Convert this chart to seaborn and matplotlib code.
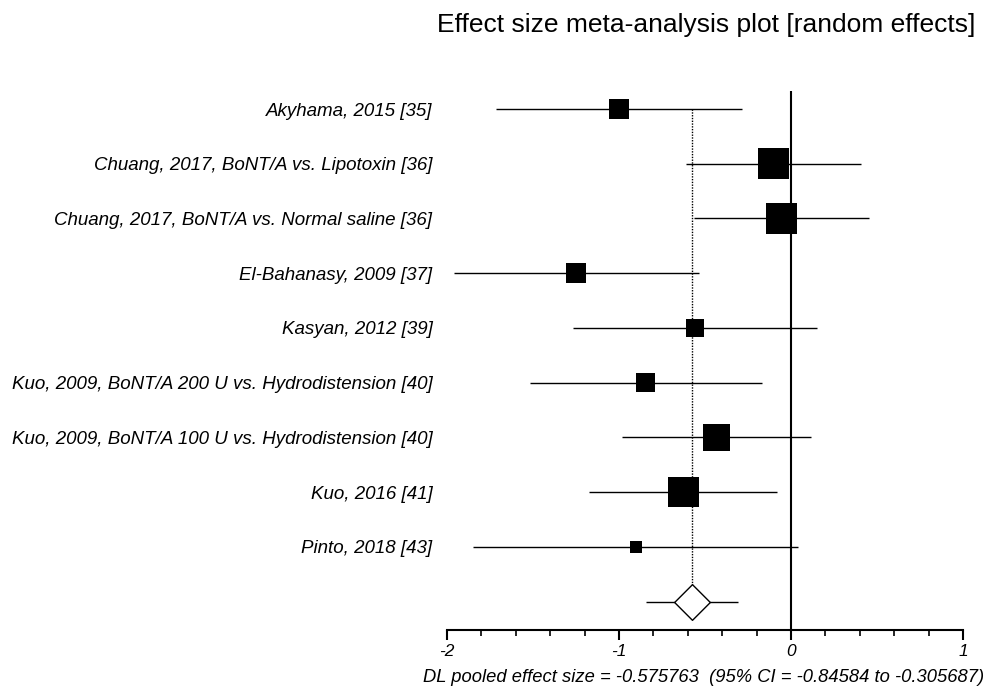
import numpy as np
import pandas as pd
import matplotlib
matplotlib.use("Agg")
import matplotlib.pyplot as plt
from matplotlib.ticker import MultipleLocator
import seaborn as sns

# ---------------- data ----------------
studies = [
    "Akyhama, 2015 [35]",
    "Chuang, 2017, BoNT/A vs. Lipotoxin [36]",
    "Chuang, 2017, BoNT/A vs. Normal saline [36]",
    "El-Bahanasy, 2009 [37]",
    "Kasyan, 2012 [39]",
    "Kuo, 2009, BoNT/A 200 U vs. Hydrodistension [40]",
    "Kuo, 2009, BoNT/A 100 U vs. Hydrodistension [40]",
    "Kuo, 2016 [41]",
    "Pinto, 2018 [43]",
]
effect = [-0.998, -0.101, -0.056, -1.249, -0.558, -0.845, -0.435, -0.626, -0.902]
ci_low = [-1.714, -0.611, -0.565, -1.960, -1.265, -1.519, -0.984, -1.173, -1.848]
ci_high = [-0.287, 0.409, 0.453, -0.537, 0.151, -0.166, 0.116, -0.080, 0.038]
weight = [7.6, 18.0, 18.3, 7.6, 6.4, 7.4, 13.8, 18.0, 2.9]  # % weights (box area)

pooled = -0.575763
pooled_low = -0.84584
pooled_high = -0.305687

x_ticks = [-2, -1, 0, 1]
title = "Effect size meta-analysis plot [random effects]"
footer = "DL pooled effect size = -0.575763  (95% CI = -0.84584 to -0.305687)"

# ---------------- styling ----------------
sns.set_theme(style="white")
plt.rcParams['font.family'] = ['Liberation Sans', 'DejaVu Sans']

AREA_PER_WEIGHT = 27.0   # pt^2 of box per % weight

df = pd.DataFrame({
    "study": studies,
    "effect": effect,
    "low": ci_low,
    "high": ci_high,
    "weight": weight,
})
df["row"] = np.arange(len(df))
pooled_row = len(df)

W, H = 992, 697
fig = plt.figure(figsize=(W / 100, H / 100), dpi=100)
ax = fig.add_axes([447 / W, 1 - 630 / H, 516 / W, (630 - 91) / H])

# confidence intervals
ax.hlines(df["row"], df["low"], df["high"], color="black", lw=1.0, zorder=2)

# null line
ax.axvline(0, color="black", lw=1.5, zorder=1)

# pooled estimate dotted line
ax.plot([pooled, pooled], [0, pooled_row], color="black", lw=1.0,
        ls=(0, (1, 1)), zorder=1)

# study boxes
wmin, wmax = min(weight), max(weight)
sns.scatterplot(data=df, x="effect", y="row", size="weight",
                sizes=(AREA_PER_WEIGHT * wmin, AREA_PER_WEIGHT * wmax),
                size_norm=(wmin, wmax), marker="s", color="black",
                edgecolor="black", linewidth=0, legend=False, ax=ax, zorder=3)

# pooled CI and diamond
ax.hlines([pooled_row], [pooled_low], [pooled_high], color="black", lw=1.0, zorder=2)
sns.scatterplot(x=[pooled], y=[pooled_row], marker="D", s=330, color="white",
                edgecolor="black", linewidth=1.0, legend=False, ax=ax, zorder=4)

ax.set_xlim(x_ticks[0], x_ticks[-1])
ax.set_ylim(pooled_row + 0.52, -0.33)
ax.set_xlabel("")
ax.set_ylabel("")

for s in ["top", "right", "left"]:
    ax.spines[s].set_visible(False)
ax.spines["bottom"].set_linewidth(1.5)
ax.spines["bottom"].set_color("black")

ax.set_xticks(x_ticks)
ax.set_xticklabels([str(t) for t in x_ticks], fontsize=12.5, style="italic")
ax.xaxis.set_minor_locator(MultipleLocator(0.2))
ax.tick_params(axis="x", which="major", bottom=True, direction="out",
               length=7, width=1.5, color="black", pad=3, labelcolor="black")
ax.tick_params(axis="x", which="minor", bottom=True, direction="out",
               length=4.5, width=1.2, color="black")

ax.set_yticks(df["row"])
ax.set_yticklabels(df["study"], fontsize=13.5, style="italic")
ax.tick_params(axis="y", length=0, pad=10.5, labelcolor="black")

fig.text(975 / W, 1 - 25 / H, title, ha="right", va="center", fontsize=19,
         color="black")
fig.text(984 / W, 1 - 678 / H, footer, ha="right", va="center", fontsize=13.2,
         style="italic", color="black")

fig.savefig("out.png", dpi=100, facecolor="white")
